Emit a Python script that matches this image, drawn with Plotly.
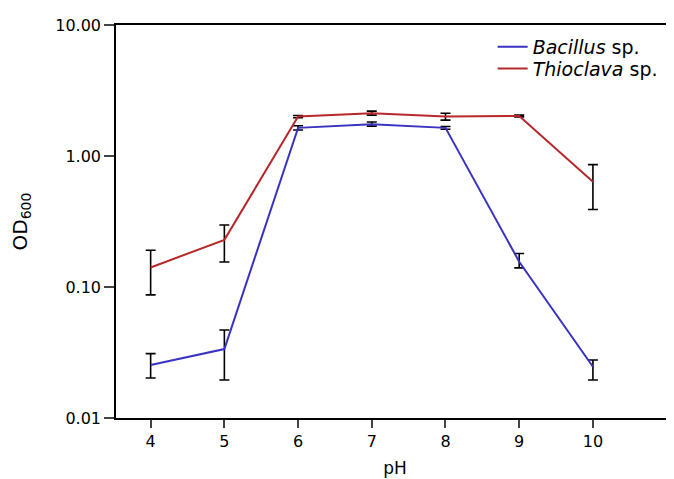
import plotly.graph_objects as go

ph = [4, 5, 6, 7, 8, 9, 10]

bacillus = [0.0254, 0.0336, 1.64, 1.75, 1.64, 0.156, 0.0246]
bacillus_hi = [0.031, 0.047, 1.70, 1.82, 1.68, 0.18, 0.0277]
bacillus_lo = [0.0202, 0.0195, 1.58, 1.69, 1.60, 0.14, 0.0195]

thioclava = [0.141, 0.229, 2.0, 2.12, 2.0, 2.02, 0.637]
thioclava_hi = [0.191, 0.297, 2.04, 2.20, 2.12, 2.05, 0.86]
thioclava_lo = [0.087, 0.155, 1.96, 2.05, 1.88, 1.99, 0.39]

ytick_vals = [0.01, 0.1, 1, 10]
ytick_text = ["0.01", "0.10", "1.00", "10.00"]

def err(v, hi, lo):
    return [h - x for x, h in zip(v, hi)], [x - l for x, l in zip(v, lo)]

fig = go.Figure()
for name, v, hi, lo, col, lg in [
    ("<i>Bacillus</i> sp.", bacillus, bacillus_hi, bacillus_lo, "#3a32c0", "legend"),
    ("<i>Thioclava</i> sp.", thioclava, thioclava_hi, thioclava_lo, "#b8282a", "legend2"),
]:
    up, dn = err(v, hi, lo)
    fig.add_trace(go.Scatter(
        x=ph, y=v, name=name, mode="lines", legend=lg,
        line=dict(color=col, width=2),
        error_y=dict(type="data", array=up, arrayminus=dn, color="black",
                     thickness=1.6, width=5, symmetric=False),
    ))

leg_common = dict(x=0.675, xanchor="left", yanchor="middle",
                  bgcolor="rgba(0,0,0,0)", font=dict(size=19))

# page body has an 8px margin, so the figure is offset by 8px
fig.update_layout(
    width=666, height=471,
    margin=dict(l=108, r=0, t=17, b=61),
    paper_bgcolor="white", plot_bgcolor="white",
    font=dict(family="DejaVu Sans, sans-serif", size=16, color="black"),
    showlegend=True,
    legend=dict(y=0.944, **leg_common),
    legend2=dict(y=0.889, **leg_common),
    xaxis=dict(range=[3.53, 11.1], tickvals=ph, ticks="outside", ticklen=8,
               tickwidth=1.5, showline=True, linecolor="black", linewidth=1.5,
               mirror=True, showgrid=False, zeroline=False,
               title=dict(text="pH", font=dict(size=17), standoff=12),
               tickfont=dict(size=16)),
    yaxis=dict(type="log", range=[-2, 1], tickvals=ytick_vals, ticktext=ytick_text,
               ticks="outside", ticklen=10, tickwidth=1.5, showline=True,
               linecolor="black", linewidth=1.5, showgrid=False, zeroline=False,
               title=dict(text="OD<sub>600</sub>", font=dict(size=20), standoff=24),
               tickfont=dict(size=16)),
)

fig.write_html("out.html")
